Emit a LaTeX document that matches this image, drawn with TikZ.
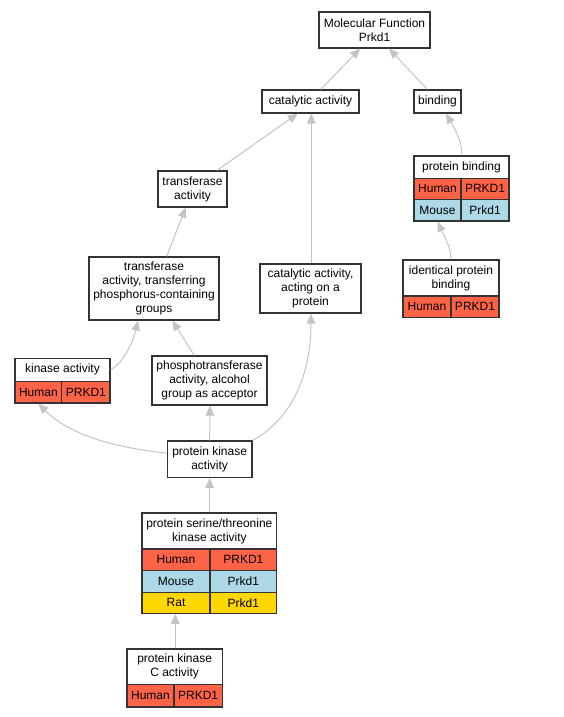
\documentclass[tikz,border=0pt]{standalone}
\usepackage{fontspec}
\setmainfont{Liberation Sans}
\usetikzlibrary{arrows.meta}
\definecolor{human}{HTML}{FF6347}
\definecolor{mouse}{HTML}{ADD8E6}
\definecolor{rat}{HTML}{FFD700}
\definecolor{edgec}{HTML}{C4C4C4}
\definecolor{border}{HTML}{333333}
\newcommand\mkbox[7]{\node[gobox,fill=#6,minimum width={(#4-#2)*1pt},minimum height={(#5-#3)*1pt}] (#1) at ({(#2+#4)/2},{(#3+#5)/2}) {#7};}
\begin{document}
\begin{tikzpicture}[x=1pt,y=-1pt,
  gobox/.style={draw=border,line width=1.2pt,inner sep=0pt,align=center,font=\fontsize{12}{14}\selectfont},
  goedge/.style={draw=edgec,line width=1pt,-{Triangle[length=10pt,width=8.5pt]}}]
\useasboundingbox (0,0) rectangle (564,717);
\fill[white] (0,0) rectangle (564,717);
% nodes
\mkbox{mf}{319}{12}{430}{48}{white}{Molecular Function\\Prkd1}
\mkbox{cat}{262}{90}{359}{113}{white}{catalytic activity}
\mkbox{bind}{414}{90}{461}{113}{white}{binding}
\mkbox{trans}{158}{171}{227}{207}{white}{transferase\\activity}
\mkbox{pb}{414}{156}{509}{178.3}{white}{protein binding}
\mkbox{pbh}{414}{178.3}{461}{199.3}{human}{Human}
\mkbox{pbhg}{461}{178.3}{509}{199.3}{human}{PRKD1}
\mkbox{pbm}{414}{199.3}{461}{221}{mouse}{Mouse}
\mkbox{pbmg}{461}{199.3}{509}{221}{mouse}{Prkd1}
\mkbox{tpp}{89}{257}{219}{320}{white}{transferase\\activity, transferring\\phosphorus-containing\\groups}
\mkbox{cap}{260}{264}{361}{313}{white}{catalytic activity,\\acting on a\\protein}
\mkbox{ipb}{403}{260}{499}{296}{white}{identical protein\\binding}
\mkbox{ipbh}{403}{296}{451}{317.3}{human}{Human}
\mkbox{ipbhg}{451}{296}{499}{317.3}{human}{PRKD1}
\mkbox{ka}{15}{358.3}{110}{381.3}{white}{kinase activity}
\mkbox{kah}{15}{381.3}{61.7}{403}{human}{Human}
\mkbox{kahg}{61.7}{381.3}{110}{403}{human}{PRKD1}
\mkbox{pta}{152}{356}{267}{405}{white}{phosphotransferase\\activity, alcohol\\group as acceptor}
\mkbox{pka}{167.3}{441}{252}{477.3}{white}{protein kinase\\activity}
\mkbox{pst}{142}{513}{276.7}{549}{white}{protein serine/threonine\\kinase activity}
\mkbox{psth}{142}{549}{210}{570.7}{human}{Human}
\mkbox{psthg}{210}{549}{276.7}{570.7}{human}{PRKD1}
\mkbox{pstm}{142}{570.7}{210}{592.3}{mouse}{Mouse}
\mkbox{pstmg}{210}{570.7}{276.7}{592.3}{mouse}{Prkd1}
\mkbox{pstr}{142}{592.3}{210}{613.3}{rat}{Rat}
\mkbox{pstrg}{210}{592.3}{276.7}{613.3}{rat}{Prkd1}
\mkbox{pkc}{127}{649}{222.3}{684.7}{white}{protein kinase\\C activity}
\mkbox{pkch}{127}{684.7}{174}{707}{human}{Human}
\mkbox{pkchg}{174}{684.7}{222.3}{707}{human}{PRKD1}
% edges
\draw[goedge] ([xshift=10.2pt]cat.north) -- ([xshift=-14.5pt]mf.south);
\draw[goedge] ([xshift=-10.2pt]bind.north) -- ([xshift=14.5pt]mf.south);
\draw[goedge] ([xshift=24.5pt]trans.north) -- ([xshift=-12.8pt]cat.south);
\draw[goedge] ([xshift=0.8pt]cap.north) -- ([xshift=0.8pt]cat.south);
\draw[goedge] ([xshift=0.5pt]pb.north) .. controls +(0,-15) and +(8,14) .. ([xshift=8.5pt]bind.south);
\draw[goedge] (ipb.north) .. controls +(0,-14) and +(5,12) .. ([xshift=0.2pt]pbm.south);
\draw[goedge] ([xshift=12.7pt]tpp.north) -- ([xshift=-6.8pt]trans.south);
\draw[goedge] (ka.east) .. controls +(12,-7) and +(-6,25) .. ([xshift=-16pt]tpp.south);
\draw[goedge] ([xshift=-15.2pt]pta.north) -- ([xshift=18.3pt]tpp.south);
\draw[goedge] ([yshift=6pt]pka.west) .. controls +(-75,-8) and +(22,22) .. (kah.south);
\draw[goedge] (pka.north) -- ([xshift=0.5pt]pta.south);
\draw[goedge] (pka.north east) .. controls +(40,-22) and +(0,60) .. ([xshift=0.5pt]cap.south);
\draw[goedge] (pst.north -| pka.north) -- (pka.south);
\draw[goedge] (pkc.north -| 175.3,0) -- (pstr.south -| 175.3,0);
\end{tikzpicture}
\end{document}
